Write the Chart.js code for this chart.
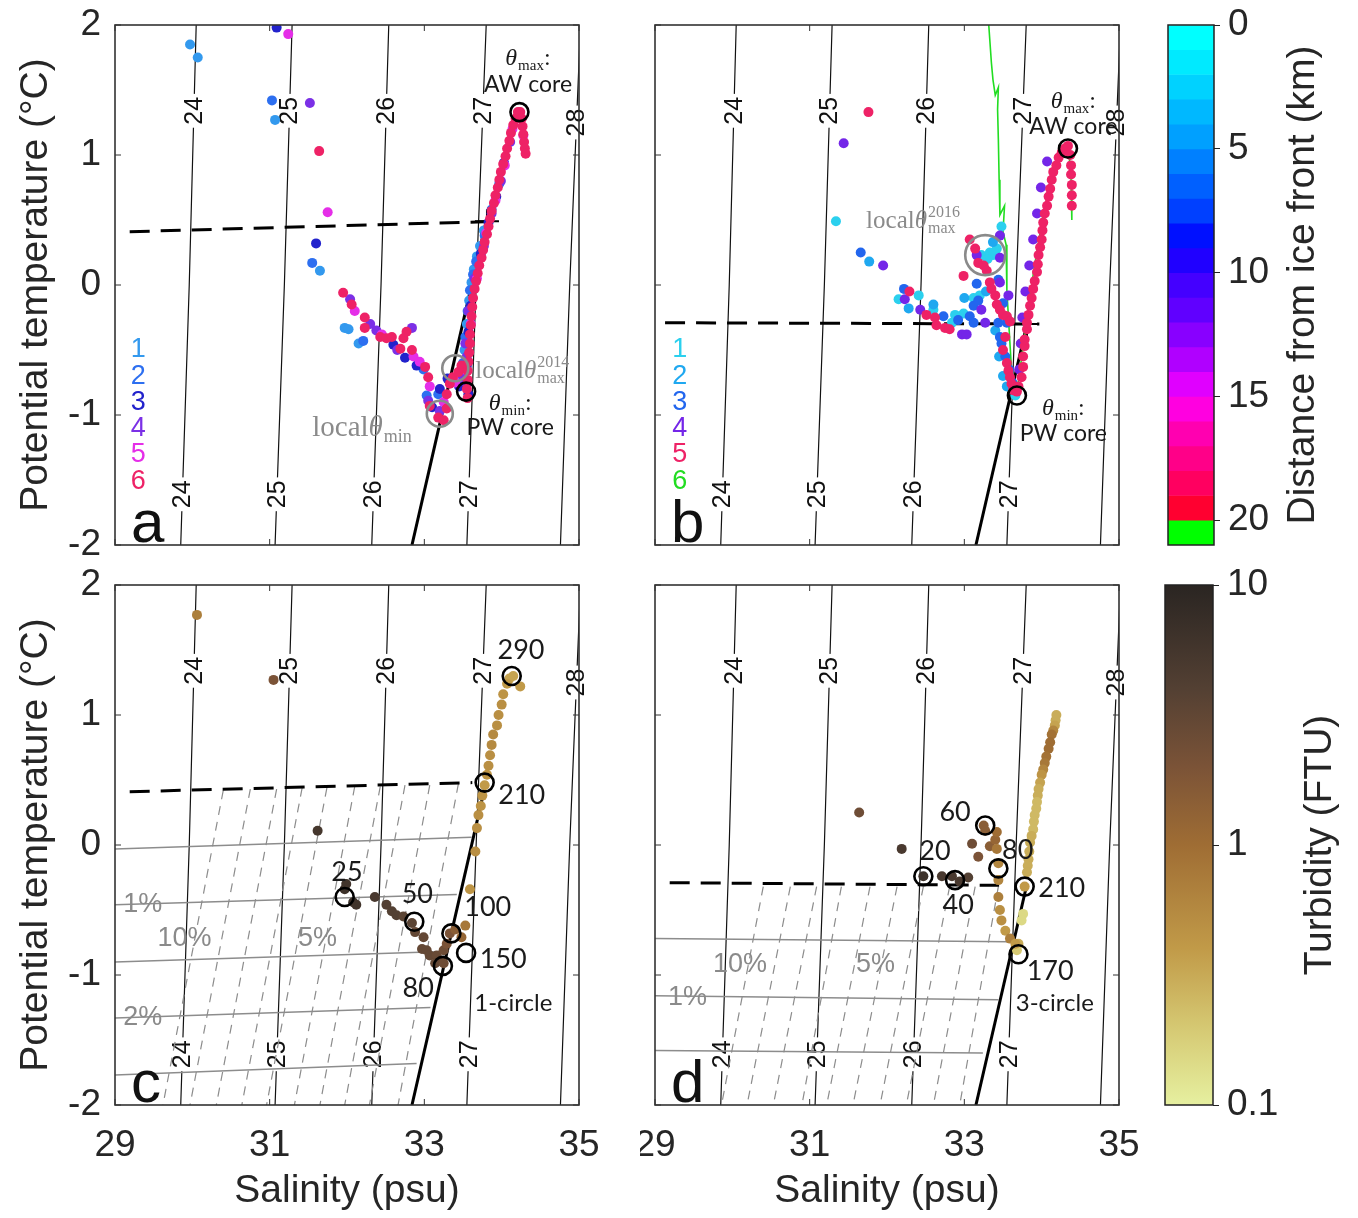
<!DOCTYPE html>
<html>
<head>
<meta charset="utf-8">
<title>Theta-S diagrams</title>
<script src="https://cdn.jsdelivr.net/npm/chart.js@4.4.1/dist/chart.umd.min.js"></script>
<style>
  html, body { margin: 0; padding: 0; background: #fff; }
  #page { position: relative; width: 1358px; height: 1218px; overflow: hidden; }
  canvas { position: absolute; }
</style>
</head>
<body>
<div id="page">
  <canvas id="panelA" width="600" height="560" style="left:0;top:0"></canvas>
  <canvas id="panelB" width="520" height="560" style="left:640px;top:0"></canvas>
  <canvas id="panelC" width="600" height="658" style="left:0;top:560px"></canvas>
  <canvas id="panelD" width="520" height="658" style="left:640px;top:560px"></canvas>
  <canvas id="cbDist" width="218" height="575" style="left:1140px;top:0"></canvas>
  <canvas id="cbTurb" width="218" height="658" style="left:1140px;top:560px"></canvas>
</div>
<script>
const FONT = '"Liberation Sans", Arial, sans-serif';
const SERIF = '"Liberation Serif", "DejaVu Serif", serif';
const NOTE = 'Lato, "Liberation Sans", sans-serif';
const INK = '#1a1a1a';
const GREY = '#8a8a8a';

// axes
const salTicks = [29, 31, 33, 35];
const tempTicks = [-2, -1, 0, 1, 2];

// sigma-theta isopycnals: salinity at T = -2, 0, 2
const sigmaLevels = [24, 25, 26, 27, 28];
const sigmaT = [-2, 0, 2];
const sigmaS = [
  [29.85, 29.96, 30.05],
  [31.07, 31.19, 31.29],
  [32.32, 32.44, 32.54],
  [33.55, 33.67, 33.80],
  [34.76, 34.88, 35.02]
];

// colorbars
const distTicks = [0, 5, 10, 15, 20];
const distColors = ['#00ffff', '#00eaff', '#00d2ff', '#00b8ff', '#00a0ff', '#0080ff', '#0060ff',
  '#0040ff', '#0010ff', '#2000ff', '#4400ff', '#6000ff', '#8800ff', '#b000ff', '#e000ff',
  '#ff00e0', '#ff00b0', '#ff0088', '#ff0060', '#ff0030', '#00ff00'];
const turbTicks = [0.1, 1, 10];
const turbStops = [0.1, 0.2, 0.4, 1, 2, 4, 10];
const turbColors = ['#e6f0a0', '#d5c872', '#c19a48', '#9f6d34', '#7b5337', '#534033', '#2a2522'];

// ---- panel a : stations 1-6 (2014) ----
const colA = ['#3399ee', '#2d6ff0', '#2222cc', '#7b30e6', '#e52ee8', '#ee2266'];
const aS1 = [29.97, 30.07, 31.07, 31.65, 31.97, 32.02, 32.15, 33.52, 33.55, 33.58, 33.61, 33.64, 33.68, 33.72, 33.77];
const aT1 = [1.85, 1.75, 1.27, 0.11, -0.33, -0.34, -0.45, -0.50, -0.30, -0.12, 0.02, 0.12, 0.22, 0.30, 0.42];
const aS2 = [31.03, 31.55, 32.21, 32.99, 33.03, 33.18, 33.50, 33.53, 33.56, 33.59, 33.63, 33.67, 33.78, 33.87, 33.97];
const aT2 = [1.42, 0.17, -0.43, -0.65, -0.85, -0.84, -0.60, -0.40, -0.20, -0.04, 0.08, 0.18, 0.38, 0.58, 0.78];
const aS3 = [31.09, 31.60, 32.60, 32.75, 33.10, 33.57, 33.45, 33.30, 33.20, 32.90, 33.55, 33.57, 33.60, 33.73, 33.83, 33.93, 34.03];
const aT3 = [1.98, 0.32, -0.46, -0.56, -0.94, -0.84, -0.78, -0.72, -0.80, -0.62, -0.62, -0.36, -0.16, 0.24, 0.48, 0.68, 0.94];
const aS4 = [31.52, 32.04, 32.38, 32.84, 33.05, 33.20, 33.50, 33.55, 33.55, 33.53, 32.30, 32.65, 33.57, 33.65, 33.77, 33.87, 33.99, 34.11, 34.19];
const aT4 = [1.40, -0.11, -0.35, -0.33, -0.89, -0.97, -0.71, -0.76, -0.55, -0.45, -0.30, -0.50, -0.20, 0.05, 0.30, 0.55, 0.80, 1.10, 1.28];
const aS5 = [31.24, 31.75, 32.86, 32.94, 33.07, 33.25, 33.40, 33.52, 33.60, 33.68, 33.80, 33.92, 34.04, 34.14, 34.22, 34.28, 32.10, 32.45];
const aT5 = [1.93, 0.56, -0.55, -0.59, -0.78, -0.90, -0.75, -0.65, -0.30, 0.05, 0.40, 0.65, 0.92, 1.20, 1.30, 1.15, -0.20, -0.38];
const aS6 = [31.64, 31.95, 32.06, 32.23, 32.23, 32.43, 32.51, 32.58, 32.69, 32.73, 32.77, 32.84, 33.01, 33.05, 33.07, 33.18,
  33.25, 33.29, 33.29, 33.33, 33.37, 33.44, 33.48,
  33.56, 33.55, 33.56, 33.56, 33.57, 33.58, 33.59, 33.59, 33.60, 33.61, 33.62, 33.63, 33.65, 33.67, 33.69, 33.71, 33.74,
  33.76, 33.78, 33.81, 33.83, 33.85, 33.87, 33.90, 33.92, 33.95, 33.97, 33.99, 34.02, 34.05, 34.07, 34.10, 34.12, 34.15,
  34.18, 34.21, 34.24, 34.26, 34.27, 34.28, 34.29, 34.30, 34.31];
const aT6 = [1.03, -0.06, -0.15, -0.25, -0.33, -0.40, -0.41, -0.40, -0.49, -0.41, -0.36, -0.50, -0.63, -0.71, -0.93, -1.02,
  -1.04, -0.95, -0.84, -0.76, -0.71, -0.67, -0.62,
  -0.87, -0.80, -0.73, -0.66, -0.59, -0.52, -0.45, -0.38, -0.31, -0.24, -0.17, -0.10, -0.03, 0.03, 0.09, 0.15, 0.21,
  0.27, 0.33, 0.39, 0.45, 0.51, 0.57, 0.63, 0.69, 0.75, 0.81, 0.87, 0.93, 0.99, 1.05, 1.11, 1.17, 1.23,
  1.28, 1.33, 1.33, 1.28, 1.22, 1.16, 1.10, 1.05, 1.01];

// ---- panel b : stations 1-5 (2016) + station 6 profile ----
const colB = ['#2bd0ee', '#1fa8f0', '#2266ee', '#7426e8', '#ee2266', '#22dd22'];
const bS1 = [31.34, 32.15, 32.41, 32.60, 32.84, 32.88, 32.99, 33.20, 33.12, 33.22, 33.33, 33.37, 33.42, 33.48, 33.66, 33.30];
const bT1 = [0.49, -0.11, -0.08, -0.19, -0.29, -0.23, -0.22, -0.08, -0.10, 0.23, 0.25, 0.23, 0.28, 0.45, -0.85, 0.20];
const bS2 = [31.77, 32.28, 32.60, 33.37, 33.40, 33.45, 33.50, 33.55, 33.00, 33.28];
const bT2 = [0.18, -0.18, -0.15, 0.33, -0.35, -0.55, -0.70, -0.78, -0.10, -0.05];
const bS3 = [31.66, 32.22, 32.73, 32.92, 33.07, 33.12, 33.12, 33.18, 33.16, 33.44, 33.55, 33.50, 33.44, 33.46, 33.48, 33.53, 33.58, 33.62];
const bT3 = [0.25, -0.03, -0.24, -0.27, -0.24, -0.29, -0.16, -0.12, 0.01, 0.04, -0.29, -0.14, -0.29, -0.40, -0.45, -0.55, -0.65, -0.75];
const bS4 = [31.44, 31.95, 32.23, 32.43, 32.97, 33.03, 33.22, 33.27, 33.16, 33.46, 33.46, 33.46, 33.57, 33.71, 33.73, 33.75,
  33.79, 33.84, 33.89, 33.94, 33.99, 34.07];
const bT4 = [1.09, 0.15, -0.11, -0.19, -0.38, -0.38, -0.19, -0.29, 0.23, 0.38, 0.21, 0.02, -0.08, -0.65, -0.45, -0.25,
  -0.05, 0.15, 0.35, 0.55, 0.75, 0.95];
const bS5 = [31.76, 32.29, 32.51, 32.62, 32.64, 32.75, 32.81, 32.99, 33.07, 33.14, 33.18, 33.25, 33.29, 33.33, 33.35, 33.40,
  33.42, 33.46, 33.50, 33.55, 33.59, 33.50, 33.55, 33.57, 33.59, 33.61, 33.63, 33.68, 33.53,
  33.70, 33.74, 33.76, 33.76, 33.78, 33.78, 33.81, 33.81, 33.83, 33.85, 33.87, 33.89, 33.91, 33.94, 33.95, 33.96, 33.98,
  34.00, 34.01, 34.02, 34.04, 34.07, 34.09, 34.11, 34.13, 34.15, 34.19, 34.22, 34.26, 34.30, 34.34, 34.37, 34.38, 34.38,
  34.39, 34.39, 34.39];
const bT5 = [1.33, -0.05, -0.23, -0.25, -0.31, -0.33, -0.34, 0.07, 0.35, 0.28, 0.17, 0.15, 0.11, 0.02, -0.03, -0.08,
  -0.15, -0.19, -0.23, -0.24, -0.28, -0.50, -0.60, -0.66, -0.71, -0.76, -0.81, -0.82, -0.40,
  -0.78, -0.71, -0.63, -0.55, -0.47, -0.42, -0.34, -0.29, -0.23, -0.16, -0.10, -0.03, 0.03, 0.10, 0.16, 0.23, 0.29,
  0.35, 0.42, 0.48, 0.55, 0.61, 0.68, 0.74, 0.81, 0.87, 0.92, 0.98, 1.02, 1.05, 1.07, 1.00, 0.92, 0.85,
  0.77, 0.69, 0.61];
const bS6 = [33.31, 33.35, 33.37, 33.40, 33.44, 33.43, 33.44, 33.45, 33.46, 33.52, 33.50, 33.54, 33.55, 33.58, 33.61,
  33.63, 33.68, 33.79, 33.90, 34.03, 34.16, 34.29, 34.35, 34.38, 34.39];
const bT6 = [2.05, 1.71, 1.58, 1.46, 1.52, 1.35, 1.12, 0.81, 0.54, 0.61, 0.41, 0.31, -0.04, -0.35, -0.65,
  -0.85, -0.82, -0.35, 0.12, 0.58, 0.88, 1.05, 1.04, 0.81, 0.50];

// ---- panel c : 1-circle, turbidity (FTU) ----
const cSal = [30.06, 31.05, 31.62, 34.15, 34.24, 34.10, 34.07, 34.02, 34.00, 33.96, 33.94, 33.89, 33.87, 33.85, 33.83,
  33.81, 33.78, 33.75, 33.73, 33.70, 33.68, 33.66, 33.59, 33.53, 33.48,
  31.97, 31.99, 32.08, 32.12, 32.36, 32.51, 32.58, 32.64, 32.73, 32.84, 32.88, 32.99, 32.97, 33.03, 33.07, 33.16,
  33.25, 33.33, 33.40, 33.20, 33.14, 33.25, 33.29];
const cTemp = [1.77, 1.27, 0.11, 1.30, 1.22, 1.28, 1.24, 1.16, 1.08, 1.00, 0.92, 0.85, 0.77, 0.69, 0.61,
  0.54, 0.46, 0.38, 0.30, 0.23, 0.13, -0.05, -0.34, -0.62, -0.71,
  -0.34, -0.30, -0.44, -0.46, -0.40, -0.46, -0.51, -0.54, -0.55, -0.60, -0.67, -0.71, -0.80, -0.81, -0.85, -0.85,
  -0.81, -0.68, -0.65, -0.89, -0.91, -0.91, -0.76];
const cTurb = [0.7, 2.0, 5.5, 0.35, 0.4, 0.35, 0.4, 0.45, 0.5, 0.5, 0.5, 0.55, 0.55, 0.5, 0.5,
  0.45, 0.4, 0.45, 0.45, 0.5, 0.5, 0.5, 0.45, 0.8, 1.2,
  6.5, 6, 6.5, 6, 5, 4, 4, 4, 3.5, 3.5, 3, 3, 3, 3, 3, 2.8,
  2.5, 2, 1.5, 3, 3, 2.5, 2];

// ---- panel d : 3-circle, turbidity (FTU) ----
const dSal = [31.64, 32.19, 32.47, 32.71, 32.84, 32.94, 33.05, 33.10, 33.18, 33.25, 33.27, 33.33, 33.40, 33.42,
  34.19, 34.18, 34.17, 34.15, 34.13, 34.11, 34.09, 34.06, 34.04, 34.02, 34.00, 33.98, 33.96, 33.95, 33.94, 33.93,
  33.91, 33.90, 33.89, 33.87, 33.85, 33.84, 33.83, 33.82, 33.81, 33.78, 33.76, 33.74, 33.70, 33.68,
  33.42, 33.44, 33.44, 33.44, 33.46, 33.48, 33.53, 33.59, 33.66];
const dTemp = [0.25, -0.03, -0.24, -0.24, -0.24, -0.28, -0.25, 0.01, -0.09, 0.15, 0.11, -0.01, 0.04, 0.10,
  1.00, 0.96, 0.92, 0.88, 0.85, 0.79, 0.74, 0.68, 0.63, 0.58, 0.54, 0.48, 0.43, 0.38, 0.33, 0.28,
  0.23, 0.18, 0.12, 0.07, 0.02, -0.05, -0.11, -0.16, -0.21, -0.32, -0.53, -0.58, -0.76, -0.81,
  -0.03, -0.14, -0.27, -0.40, -0.50, -0.58, -0.66, -0.72, -0.76];
const dTurb = [2.5, 5, 6.5, 5, 5, 5, 4, 2.5, 2, 1.5, 1.5, 1.5, 1.2, 1.0,
  0.3, 0.3, 0.35, 0.6, 0.9, 1.0, 1.0, 0.9, 0.8, 0.6, 0.45, 0.35, 0.3, 0.3, 0.25, 0.25,
  0.25, 0.25, 0.25, 0.3, 0.3, 0.3, 0.3, 0.3, 0.3, 0.4, 0.15, 0.15, 0.3, 0.2,
  0.8, 0.6, 0.6, 0.7, 0.5, 0.5, 0.4, 0.7, 0.4];

// reference lines
const dashAS = [29.19, 33.98], dashAT = [0.41, 0.49];
const dashBS = [29.13, 33.97], dashBT = [-0.29, -0.30];
const dashCS = [29.19, 33.62], dashCT = [0.41, 0.48];
const dashDS = [29.19, 33.45], dashDT = [-0.29, -0.31];
const mixAS = [32.84, 33.80], mixAT = [-2, 0.49];
const mixBS = [33.15, 33.81], mixBT = [-2, -0.30];

// meltwater fraction grids (c, d)
const gridCLeftT = [-0.03, -0.46, -0.90, -1.33, -1.77];
const gridCRightS = [33.61, 33.42, 33.25, 33.08, 32.90];
const gridCRightT = [0.06, -0.38, -0.82, -1.25, -1.68];
const slantCTopS = [30.40, 30.75, 31.09, 31.42, 31.74, 32.10, 32.43, 32.75, 33.07, 33.44];
const slantCTopT = [0.42, 0.43, 0.43, 0.44, 0.44, 0.45, 0.45, 0.46, 0.46, 0.47];
const slantCBotS = [29.62, 29.97, 30.31, 30.64, 30.96, 31.32, 31.65, 31.97, 32.29, 32.66];
const gridDLeftT = [-0.72, -1.16, -1.58];
const gridDRightS = [33.58, 33.44, 33.24];
const gridDRightT = [-0.745, -1.19, -1.60];
const slantDTopS = [30.40, 30.75, 31.09, 31.41, 31.78, 32.13, 32.47, 32.81, 33.14, 33.44];
const slantDBotS = [29.86, 30.19, 30.53, 30.90, 31.22, 31.56, 31.91, 32.25, 32.60, 32.94];

// marked points
const ringAS = [34.23, 33.54], ringAT = [1.33, -0.82];
const greyRingAS = [33.40, 33.20], greyRingAT = [-0.64, -0.99];
const ringBS = [34.34, 33.68], ringBT = [1.05, -0.85];
const greyRingBS = [33.27], greyRingBT = [0.23];
const ringCS = [34.13, 33.78, 31.97, 32.87, 33.35, 33.54, 33.24];
const ringCT = [1.30, 0.48, -0.40, -0.59, -0.68, -0.83, -0.93];
const ringCLab = ['290', '210', '25', '50', '100', '150', '80'];
const ringDS = [33.27, 32.47, 32.88, 33.44, 33.78, 33.70];
const ringDT = [0.15, -0.24, -0.27, -0.18, -0.32, -0.84];
const ringDLab = ['60', '20', '40', '80', '210', '170'];

// ---------- helpers ----------
const pts = (S, T) => S.map((s, i) => ({ x: s, y: T[i] }));
const X = (c, s) => c.scales.x.getPixelForValue(s);
const Y = (c, t) => c.scales.y.getPixelForValue(t);

function hex(h) { return [1, 3, 5].map(i => parseInt(h.substr(i, 2), 16)); }
function turbColor(v) {
  const lv = Math.log10(v);
  for (let i = 0; i < turbStops.length - 1; i++) {
    const a = Math.log10(turbStops[i]), b = Math.log10(turbStops[i + 1]);
    if (lv <= b || i === turbStops.length - 2) {
      const f = Math.min(1, Math.max(0, (lv - a) / (b - a)));
      const p = hex(turbColors[i]), q = hex(turbColors[i + 1]);
      return 'rgb(' + p.map((x, k) => Math.round(x + (q[k] - x) * f)).join(',') + ')';
    }
  }
}

function lineDs(S, T, color, width, dash, order) {
  return { data: pts(S, T), showLine: true, pointRadius: 0, borderColor: color, borderWidth: width,
    borderDash: dash || [], fill: false, order };
}
function dotDs(S, T, color, order) {
  return { data: pts(S, T), pointRadius: 5, pointBackgroundColor: color, pointBorderWidth: 0, order };
}
function ringDs(S, T, color, r, order) {
  return { data: pts(S, T), pointRadius: r, pointBackgroundColor: 'rgba(0,0,0,0)', pointBorderColor: color,
    pointBorderWidth: 2.6, order, clip: false };
}
function crossDs(S, T) {
  return { data: pts(S, T), pointStyle: 'cross', pointRadius: 12, pointBorderColor: '#000', pointBorderWidth: 2, order: 40 };
}
function isoDatasets() {
  return sigmaLevels.map((lev, i) => {
    const d = lineDs(sigmaS[i], sigmaT, '#111', 1.2, [], 104 - i);
    if (i === sigmaLevels.length - 1) d.isoLast = true;
    return d;
  });
}
function sAt(i, t) {
  const T = sigmaT, S = sigmaS[i];
  const k = t <= T[1] ? 0 : 1;
  return S[k] + (S[k + 1] - S[k]) * (t - T[k]) / (T[k + 1] - T[k]);
}

function text(c, s, t, str, font, color, align) {
  const ctx = c.ctx;
  ctx.save();
  ctx.font = font; ctx.fillStyle = color; ctx.textAlign = align || 'center'; ctx.textBaseline = 'middle';
  ctx.fillText(str, X(c, s), Y(c, t));
  ctx.restore();
}
function theta(c, s, t, o) {
  const ctx = c.ctx, sz = o.size, ss = Math.round(sz * 0.62);
  ctx.save();
  ctx.fillStyle = o.color; ctx.textBaseline = 'alphabetic'; ctx.textAlign = 'left';
  const fPre = sz + 'px ' + SERIF, fTh = 'italic ' + sz + 'px ' + SERIF, fScr = ss + 'px ' + SERIF;
  ctx.font = fPre;
  const wPre = o.pre ? ctx.measureText(o.pre).width : 0;
  const wTail = o.tail ? ctx.measureText(o.tail).width : 0;
  ctx.font = fTh; const wTh = ctx.measureText('θ').width + 1;
  ctx.font = fScr;
  const wScr = Math.max(ctx.measureText(o.sub || '').width, ctx.measureText(o.sup || '').width);
  let x = X(c, s) - (o.align === 'left' ? 0 : (wPre + wTh + wScr + wTail) / 2);
  const base = Y(c, t) + sz * 0.33;
  if (o.pre) { ctx.font = fPre; ctx.fillText(o.pre, x, base); x += wPre; }
  ctx.font = fTh; ctx.fillText('θ', x, base); x += wTh;
  ctx.font = fScr;
  if (o.sub) ctx.fillText(o.sub, x, base + sz * 0.2);
  if (o.sup) ctx.fillText(o.sup, x, base - sz * 0.45);
  x += wScr;
  if (o.tail) { ctx.font = fPre; ctx.fillText(o.tail, x, base); }
  ctx.restore();
}

function drawIsoLabels(c) {
  const ctx = c.ctx;
  ctx.save();
  ctx.font = '25px ' + FONT;
  ctx.textAlign = 'center'; ctx.textBaseline = 'middle';
  sigmaLevels.forEach((lev, i) => {
    const spots = [lev === 28 ? 1.25 : 1.34];
    if (lev < 28) spots.push(-1.61);
    spots.forEach(t => {
      const x = X(c, sAt(i, t)), y = Y(c, t);
      const w = ctx.measureText(String(lev)).width + 6;
      ctx.save();
      ctx.translate(x, y); ctx.rotate(-Math.PI / 2);
      ctx.fillStyle = '#fff'; ctx.fillRect(-w / 2, -11, w, 22);
      ctx.fillStyle = '#111'; ctx.fillText(String(lev), 0, 1);
      ctx.restore();
    });
  });
  ctx.restore();
}

function frame(c) {
  const { left, right, top, bottom } = c.chartArea;
  const ctx = c.ctx;
  ctx.save();
  ctx.strokeStyle = '#333';
  ctx.lineWidth = 1;
  ctx.beginPath();
  tempTicks.forEach(v => { const y = Y(c, v); ctx.moveTo(left, y); ctx.lineTo(left + 6, y); ctx.moveTo(right, y); ctx.lineTo(right - 6, y); });
  salTicks.forEach(v => { const x = X(c, v); ctx.moveTo(x, bottom); ctx.lineTo(x, bottom - 6); ctx.moveTo(x, top); ctx.lineTo(x, top + 6); });
  ctx.stroke();
  ctx.lineWidth = 1.6;
  ctx.strokeRect(left, top, right - left, bottom - top);
  ctx.restore();
}

function stationLegend(c, s, colors) {
  colors.forEach((col, i) => text(c, s, -0.50 - 0.202 * i, String(i + 1), '27px ' + FONT, col));
}
function panelLetter(c, ch) {
  const ctx = c.ctx;
  ctx.save();
  ctx.font = '60px ' + FONT; ctx.fillStyle = '#111'; ctx.textAlign = 'left'; ctx.textBaseline = 'alphabetic';
  ctx.fillText(ch, c.chartArea.left + 16, c.chartArea.bottom - 3);
  ctx.restore();
}

function makePanel(id, p) {
  const tickFont = { family: FONT, size: 37 };
  const titleFont = { family: FONT, size: 39 };
  return new Chart(document.getElementById(id), {
    type: 'scatter',
    data: { datasets: p.datasets },
    options: {
      responsive: false, animation: false, events: [],
      layout: { padding: p.padding, autoPadding: false },
      plugins: { legend: { display: false }, tooltip: { enabled: false } },
      scales: {
        x: {
          type: 'linear', min: 29, max: 35,
          afterBuildTicks: s => { s.ticks = salTicks.map(v => ({ value: v })); },
          ticks: { display: p.bottom, font: tickFont, color: '#262626', padding: 19, maxRotation: 0, autoSkip: false },
          grid: { display: false, drawTicks: false },
          border: { display: false },
          title: { display: p.bottom, text: 'Salinity (psu)', font: titleFont, color: '#262626', padding: { top: 0, bottom: 3 } },
          afterFit: s => { s.height = p.bottom ? 113 : 0; s.paddingLeft = 0; s.paddingRight = 0; }
        },
        y: {
          type: 'linear', min: -2, max: 2,
          afterBuildTicks: s => { s.ticks = tempTicks.map(v => ({ value: v })); },
          ticks: { display: p.left, font: tickFont, color: '#262626', padding: 14, callback: v => String(v) },
          grid: { display: false, drawTicks: false },
          border: { display: false },
          title: { display: p.left, text: 'Potential temperature (°C)', font: titleFont, color: '#262626', padding: { top: 13, bottom: 0 } },
          afterFit: s => { s.width = p.left ? 115 : 15; s.paddingTop = 0; s.paddingBottom = 0; }
        }
      }
    },
    plugins: [{
      id: 'decor',
      afterDatasetDraw(c, args) { if (c.data.datasets[args.index].isoLast) drawIsoLabels(c); },
      afterDatasetsDraw(c) { p.notes(c); panelLetter(c, p.letter); },
      afterDraw(c) { frame(c); }
    }]
  });
}

// ---------- panel a ----------
const aStations = [[aS1, aT1], [aS2, aT2], [aS3, aT3], [aS4, aT4], [aS5, aT5], [aS6, aT6]];
makePanel('panelA', {
  letter: 'a', left: true, bottom: false,
  padding: { left: 0, top: 25, right: 21, bottom: 15 },
  datasets: [
    ...isoDatasets(),
    lineDs(dashAS, dashAT, '#000', 3, [20, 11], 50),
    lineDs(mixAS, mixAT, '#000', 3, [], 50),
    crossDs([33.81], [0.49]),
    ...aStations.map((st, i) => dotDs(st[0], st[1], colA[i], 16 - i)),
    ringDs(greyRingAS, greyRingAT, '#8a8a8a', 13, 2),
    ringDs(ringAS, ringAT, '#000', 9, 1)
  ],
  notes: c => {
    theta(c, 34.34, 1.75, { sub: 'max', tail: ':', size: 24, color: INK });
    text(c, 34.34, 1.54, 'AW core', '23px ' + NOTE, INK);
    theta(c, 34.11, -0.90, { sub: 'min', tail: ':', size: 24, color: INK });
    text(c, 34.11, -1.10, 'PW core', '23px ' + NOTE, INK);
    theta(c, 33.66, -0.65, { pre: 'local', sup: '2014', sub: 'max', size: 25, color: GREY, align: 'left' });
    theta(c, 31.55, -1.09, { pre: 'local', sub: 'min', size: 29, color: GREY, align: 'left' });
    stationLegend(c, 29.30, colA);
  }
});

// ---------- panel b ----------
const bStations = [[bS1, bT1], [bS2, bT2], [bS3, bT3], [bS4, bT4], [bS5, bT5]];
makePanel('panelB', {
  letter: 'b', left: false, bottom: false,
  padding: { left: 0, top: 25, right: 41, bottom: 15 },
  datasets: [
    ...isoDatasets(),
    lineDs(dashBS, dashBT, '#000', 3, [20, 11], 50),
    lineDs(mixBS, mixBT, '#000', 3, [], 50),
    crossDs([33.81], [-0.30]),
    lineDs(bS6, bT6, colB[5], 1.6, [], 45),
    ...bStations.map((st, i) => dotDs(st[0], st[1], colB[i], 16 - i)),
    ringDs(greyRingBS, greyRingBT, '#8a8a8a', 20, 2),
    ringDs(ringBS, ringBT, '#000', 9, 1)
  ],
  notes: c => {
    theta(c, 34.41, 1.42, { sub: 'max', tail: ':', size: 24, color: INK });
    text(c, 34.41, 1.22, 'AW core', '23px ' + NOTE, INK);
    theta(c, 34.28, -0.94, { sub: 'min', tail: ':', size: 24, color: INK });
    text(c, 34.28, -1.14, 'PW core', '23px ' + NOTE, INK);
    theta(c, 31.73, 0.50, { pre: 'local', sup: '2016', sub: 'max', size: 25, color: GREY, align: 'left' });
    stationLegend(c, 29.32, colB);
  }
});

// ---------- panel c ----------
function gridSets(leftT, rightS, rightT, topS, topT, botS) {
  const out = [];
  leftT.forEach((t, i) => out.push(lineDs([29, rightS[i]], [t, rightT[i]], '#8c8c8c', 1.5, [], 60)));
  topS.forEach((s, i) => out.push(lineDs([s, botS[i]], [topT[i], -2], '#8c8c8c', 1.2, [9, 7], 60)));
  return out;
}
makePanel('panelC', {
  letter: 'c', left: true, bottom: true,
  padding: { left: 0, top: 25, right: 21, bottom: 0 },
  datasets: [
    ...isoDatasets(),
    ...gridSets(gridCLeftT, gridCRightS, gridCRightT, slantCTopS, slantCTopT, slantCBotS),
    lineDs(dashCS, dashCT, '#000', 3, [20, 11], 50),
    lineDs(mixAS, mixAT, '#000', 3, [], 50),
    { data: pts(cSal, cTemp), pointRadius: 5, pointBorderWidth: 0, order: 10,
      pointBackgroundColor: cTurb.map(turbColor) },
    ringDs(ringCS, ringCT, '#000', 9, 1)
  ],
  notes: c => {
    const f = '27px ' + NOTE;
    text(c, 34.25, 1.50, ringCLab[0], f, INK);
    text(c, 34.26, 0.38, ringCLab[1], f, INK);
    text(c, 32.00, -0.21, ringCLab[2], f, INK);
    text(c, 32.91, -0.38, ringCLab[3], f, INK);
    text(c, 33.82, -0.48, ringCLab[4], f, INK);
    text(c, 34.02, -0.88, ringCLab[5], f, INK);
    text(c, 32.92, -1.10, ringCLab[6], f, INK);
    text(c, 34.15, -1.22, '1-circle', '24px ' + NOTE, INK);
    const g = '27px ' + FONT;
    text(c, 29.36, -0.46, '1%', g, GREY);
    text(c, 29.90, -0.72, '10%', g, GREY);
    text(c, 31.62, -0.72, '5%', g, GREY);
    text(c, 29.36, -1.33, '2%', g, GREY);
  }
});

// ---------- panel d ----------
makePanel('panelD', {
  letter: 'd', left: false, bottom: true,
  padding: { left: 0, top: 25, right: 41, bottom: 0 },
  datasets: [
    ...isoDatasets(),
    ...gridSets(gridDLeftT, gridDRightS, gridDRightT, slantDTopS, slantDTopS.map(() => -0.32), slantDBotS),
    lineDs(dashDS, dashDT, '#000', 3, [20, 11], 50),
    lineDs(mixBS, mixBT, '#000', 3, [], 50),
    { data: pts(dSal, dTemp), pointRadius: 5, pointBorderWidth: 0, order: 10,
      pointBackgroundColor: dTurb.map(turbColor) },
    ringDs(ringDS, ringDT, '#000', 9, 1)
  ],
  notes: c => {
    const f = '27px ' + NOTE;
    text(c, 32.88, 0.25, ringDLab[0], f, INK);
    text(c, 32.62, -0.05, ringDLab[1], f, INK);
    text(c, 32.92, -0.46, ringDLab[2], f, INK);
    text(c, 33.69, -0.04, ringDLab[3], f, INK);
    text(c, 34.26, -0.33, ringDLab[4], f, INK);
    text(c, 34.11, -0.97, ringDLab[5], f, INK);
    text(c, 34.17, -1.22, '3-circle', '24px ' + NOTE, INK);
    const g = '27px ' + FONT;
    text(c, 30.10, -0.92, '10%', g, GREY);
    text(c, 31.85, -0.92, '5%', g, GREY);
    text(c, 29.42, -1.17, '1%', g, GREY);
  }
});

// ---------- colorbars ----------
function vTitle(c, dx, str) {
  const ctx = c.ctx, a = c.chartArea;
  ctx.save();
  ctx.translate(a.right + dx, (a.top + a.bottom) / 2);
  ctx.rotate(-Math.PI / 2);
  ctx.font = '39px ' + FONT; ctx.fillStyle = '#262626'; ctx.textAlign = 'center'; ctx.textBaseline = 'middle';
  ctx.fillText(str, 0, 0);
  ctx.restore();
}
function cbBorder(c) {
  const a = c.chartArea, ctx = c.ctx;
  ctx.save(); ctx.strokeStyle = '#222'; ctx.lineWidth = 1.5;
  ctx.strokeRect(a.left, a.top, a.right - a.left, a.bottom - a.top);
  ctx.restore();
}
const cbAxis = (w) => ({
  position: 'right',
  grid: { display: true, drawOnChartArea: false, drawTicks: true, tickLength: 6, color: '#222' },
  border: { display: false },
  ticks: { font: { family: FONT, size: 37 }, color: '#262626', padding: 8, callback: v => String(v) },
  afterFit: s => { s.width = w; s.paddingTop = 0; s.paddingBottom = 0; }
});

new Chart(document.getElementById('cbDist'), {
  type: 'bar',
  data: {
    labels: [''],
    datasets: distColors.map(col => ({ data: [1], backgroundColor: col, borderWidth: 0, barPercentage: 1, categoryPercentage: 1 }))
  },
  options: {
    responsive: false, animation: false, events: [],
    layout: { padding: { left: 28, top: 25, right: 0, bottom: 30 }, autoPadding: false },
    plugins: { legend: { display: false }, tooltip: { enabled: false } },
    scales: {
      x: { stacked: true, display: false },
      y: Object.assign(cbAxis(144), {
        stacked: true, reverse: true, min: 0, max: 21,
        afterBuildTicks: s => { s.ticks = distTicks.map(v => ({ value: v })); }
      })
    }
  },
  plugins: [{ id: 'cb', afterDraw(c) { cbBorder(c); vTitle(c, 89, 'Distance from ice front (km)'); } }]
});

new Chart(document.getElementById('cbTurb'), {
  type: 'scatter',
  data: { datasets: [] },
  options: {
    responsive: false, animation: false, events: [],
    layout: { padding: { left: 25, top: 25, right: 0, bottom: 113 }, autoPadding: false },
    plugins: { legend: { display: false }, tooltip: { enabled: false } },
    scales: {
      x: { display: false, min: 0, max: 1 },
      y: Object.assign(cbAxis(145), {
        type: 'logarithmic', min: 0.1, max: 10,
        afterBuildTicks: s => { s.ticks = turbTicks.map(v => ({ value: v })); }
      })
    }
  },
  plugins: [{
    id: 'cbt',
    beforeDatasetsDraw(c) {
      const a = c.chartArea, y = c.scales.y, ctx = c.ctx;
      const y0 = y.getPixelForValue(turbStops[0]), y1 = y.getPixelForValue(turbStops[turbStops.length - 1]);
      const g = ctx.createLinearGradient(0, y0, 0, y1);
      turbStops.forEach((v, i) => g.addColorStop((y0 - y.getPixelForValue(v)) / (y0 - y1), turbColors[i]));
      ctx.save(); ctx.fillStyle = g; ctx.fillRect(a.left, a.top, a.right - a.left, a.bottom - a.top); ctx.restore();
    },
    afterDraw(c) { cbBorder(c); vTitle(c, 107, 'Turbidity (FTU)'); }
  }]
});
</script>
</body>
</html>
